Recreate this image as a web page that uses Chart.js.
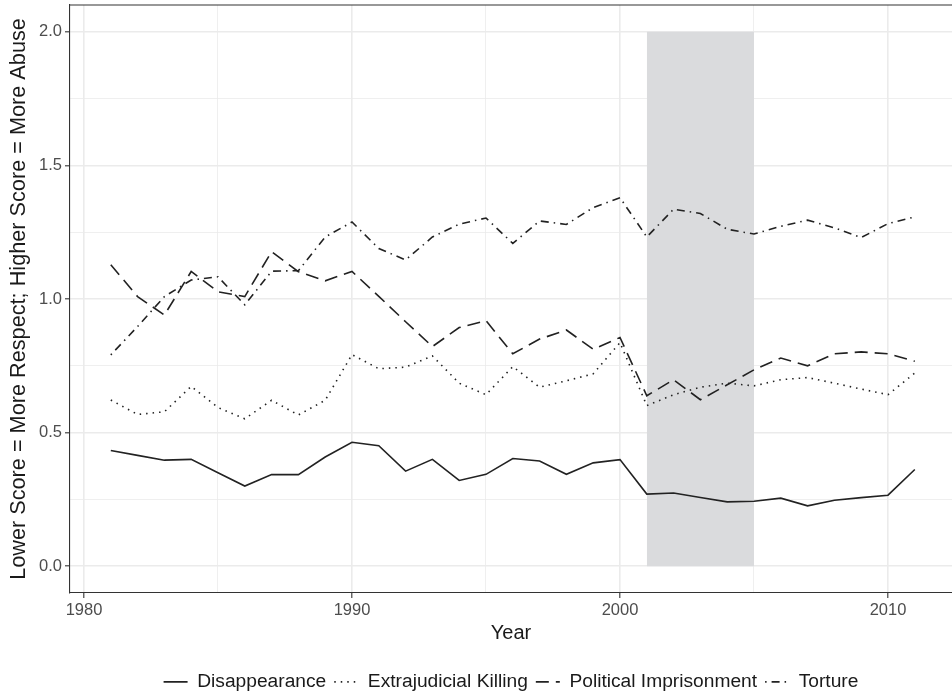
<!DOCTYPE html>
<html>
<head>
<meta charset="utf-8">
<script src="https://cdn.jsdelivr.net/npm/chart.js@4"></script>
<style>
  html, body { margin: 0; padding: 0; background: #fff; }
  #wrap { width: 952px; height: 697px; }
</style>
</head>
<body>
<div id="wrap"><canvas id="abuseChart" width="952" height="697"></canvas></div>
<script>
const years = [1981, 1982, 1983, 1984, 1985, 1986, 1987, 1988, 1989, 1990,
    1991, 1992, 1993, 1994, 1995, 1996, 1997, 1998, 1999, 2000,
    2001, 2002, 2003, 2004, 2005, 2006, 2007, 2008, 2009, 2010, 2011]

const disappearance = [0.433, 0.415, 0.397, 0.400, 0.350, 0.300, 0.343, 0.343, 0.409, 0.464,
    0.451, 0.356, 0.400, 0.321, 0.344, 0.403, 0.394, 0.344, 0.387, 0.399,
    0.270, 0.274, 0.257, 0.241, 0.243, 0.255, 0.226, 0.247, 0.257, 0.266, 0.362]

const extrajudicial = [0.622, 0.568, 0.578, 0.673, 0.594, 0.552, 0.621, 0.566, 0.621, 0.792,
    0.739, 0.745, 0.787, 0.685, 0.642, 0.747, 0.670, 0.694, 0.720, 0.837,
    0.601, 0.642, 0.670, 0.685, 0.675, 0.698, 0.706, 0.685, 0.663, 0.642, 0.723]

const imprisonment = [1.128, 1.009, 0.940, 1.103, 1.027, 1.009, 1.177, 1.102, 1.068, 1.103,
    1.010, 0.915, 0.822, 0.893, 0.919, 0.795, 0.850, 0.884, 0.812, 0.856,
    0.638, 0.698, 0.623, 0.679, 0.735, 0.779, 0.750, 0.795, 0.802, 0.795, 0.767]

const torture = [0.791, 0.897, 1.009, 1.071, 1.083, 0.978, 1.104, 1.106, 1.232, 1.288,
    1.189, 1.146, 1.232, 1.280, 1.303, 1.208, 1.292, 1.279, 1.342, 1.379,
    1.232, 1.336, 1.320, 1.261, 1.243, 1.272, 1.295, 1.266, 1.230, 1.282, 1.307]

// shaded period
const shadeYears = [2001, 2005]
const shadeTop = 2.0

const xTicks = [1980, 1985, 1990, 1995, 2000, 2005, 2010]
const yTicks = [0, 0.25, 0.5, 0.75, 1.0, 1.25, 1.5, 1.75, 2.0]

const toPoints = (values) => years.map((year, i) => ({x: year, y: values[i]}))

const lineStyle = {
    borderColor: '#222222',
    borderWidth: 1.6,
    pointRadius: 0,
    tension: 0,
    fill: false
}

const isMajorX = (v) => v % 10 === 0
const isMajorY = (v) => Math.abs(v * 2 - Math.round(v * 2)) < 1e-6
const fontFamily = '"Liberation Sans", Arial, sans-serif'

const panelTop = {
    id: 'panelTop',
    afterDraw(chart) {
        const {ctx, chartArea} = chart
        ctx.save()
        ctx.strokeStyle = '#333333'
        ctx.lineWidth = 1.1
        ctx.beginPath()
        ctx.moveTo(chartArea.left, chartArea.top)
        ctx.lineTo(chartArea.right, chartArea.top)
        ctx.stroke()
        ctx.restore()
    }
}

const gridOpts = (isMajor) => ({
    color: '#ebebeb',
    lineWidth: (c) => c.tick && isMajor(c.tick.value) ? 1.6 : 0.8,
    tickColor: (c) => c.tick && isMajor(c.tick.value) ? '#333333' : 'rgba(0,0,0,0)',
    tickLength: 5,
    tickWidth: 1.1
})

const noEdgePadding = (scale) => {
    scale.paddingTop = 0
    scale.paddingBottom = 0
    scale.paddingLeft = 0
    scale.paddingRight = 0
}

// legend samples should carry the dataset's dash pattern
const legendLabels = (chart) => {
    const items = Chart.defaults.plugins.legend.labels.generateLabels(chart)
    return items.map(item => {
        const ds = chart.data.datasets[item.datasetIndex]
        return {
            ...item,
            lineDash: ds.borderDash || [],
            lineWidth: ds.borderWidth,
            strokeStyle: ds.borderColor,
            fillStyle: ds.borderColor
        }
    })
}

new Chart(document.getElementById('abuseChart'), {
    type: 'line',
    data: {
        datasets: [
            {...lineStyle, label: 'Disappearance', data: toPoints(disappearance)},
            {...lineStyle, label: 'Extrajudicial Killing', data: toPoints(extrajudicial), borderDash: [1.5, 5]},
            {...lineStyle, label: 'Political Imprisonment', data: toPoints(imprisonment), borderDash: [13, 7]},
            {...lineStyle, label: 'Torture', data: toPoints(torture), borderDash: [1.5, 5, 8, 5]},
            {
                label: 'shade',
                data: shadeYears.map(x => ({x, y: shadeTop})),
                borderWidth: 0,
                borderColor: 'rgba(0,0,0,0)',
                backgroundColor: '#dadbdd',
                pointRadius: 0,
                fill: 'origin',
                order: 10
            }
        ]
    },
    options: {
        responsive: false,
        animation: false,
        layout: {padding: {top: 5, left: 0, right: 0, bottom: -4.5}},
        plugins: {
            tooltip: {enabled: false},
            legend: {
                position: 'bottom',
                fullSize: false,
                labels: {
                    generateLabels: legendLabels,
                    filter: (item) => item.text !== 'shade',
                    usePointStyle: true,
                    pointStyle: 'line',
                    pointStyleWidth: 24,
                    padding: 8,
                    color: '#1a1a1a',
                    font: {family: fontFamily, size: 19.2}
                }
            }
        },
        scales: {
            x: {
                type: 'linear',
                min: 1979.478,
                max: 2012.388,
                afterBuildTicks: (scale) => { scale.ticks = xTicks.map(value => ({value})) },
                afterFit: (scale) => { scale.height = 71.3; noEdgePadding(scale) },
                grid: gridOpts(isMajorX),
                border: {color: '#333333', width: 1.1},
                ticks: {
                    autoSkip: false,
                    maxRotation: 0,
                    padding: 3,
                    color: '#4d4d4d',
                    font: {family: fontFamily, size: 16.5},
                    callback: (v) => isMajorX(v) ? String(v) : ''
                },
                title: {
                    display: true,
                    text: 'Year',
                    color: '#1a1a1a',
                    padding: {top: 0, bottom: 18.8},
                    font: {family: fontFamily, size: 20}
                }
            },
            y: {
                min: -0.1,
                max: 2.1,
                afterBuildTicks: (scale) => { scale.ticks = yTicks.map(value => ({value})) },
                afterFit: (scale) => { scale.width = 70; noEdgePadding(scale) },
                grid: gridOpts(isMajorY),
                border: {color: '#333333', width: 1.1},
                ticks: {
                    autoSkip: false,
                    padding: 3,
                    color: '#4d4d4d',
                    font: {family: fontFamily, size: 16.5},
                    callback: (v) => isMajorY(v) ? v.toFixed(1) : ''
                },
                title: {
                    display: true,
                    text: 'Lower Score = More Respect; Higher Score = More Abuse',
                    color: '#1a1a1a',
                    padding: {top: 6, bottom: 0},
                    font: {family: fontFamily, size: 21.7}
                }
            }
        }
    },
    plugins: [panelTop]
});
</script>
</body>
</html>
